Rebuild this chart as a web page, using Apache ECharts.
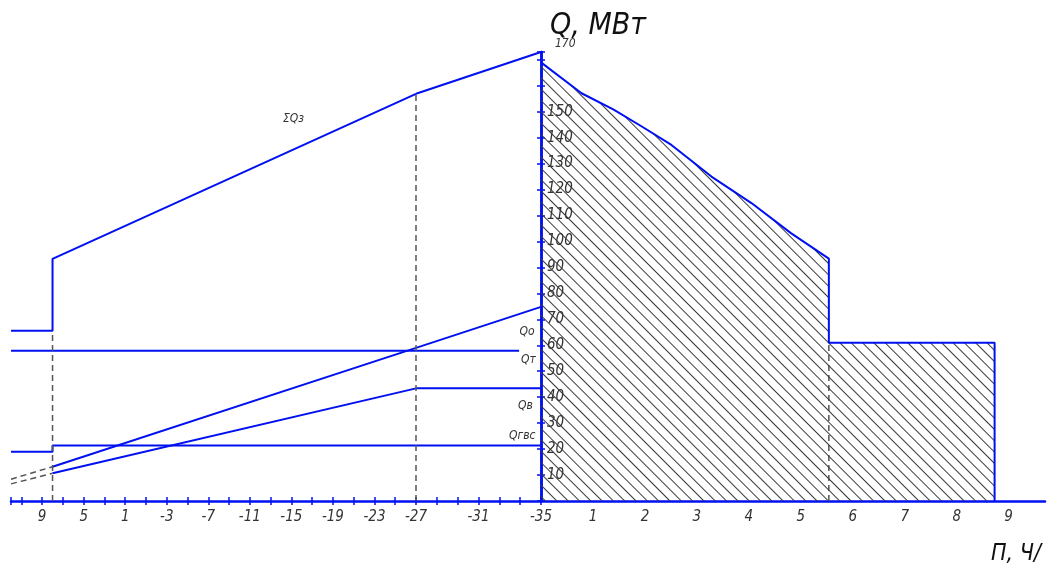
<!DOCTYPE html>
<html>
<head>
<meta charset="utf-8">
<title>График Россандера</title>
<script src="https://cdn.jsdelivr.net/npm/echarts@6/dist/echarts.min.js"></script>
<style>
    html, body { margin: 0; padding: 0; background: #fff; }
    #main { width: 1051px; height: 563px; }
</style>
</head>
<body>
<div id="main"></div>
<script>
// левая часть: температура наружного воздуха, правая: продолжительность, тыс. ч
var sumQTemp = [12, 8, 8, -27, -35];
var sumQVal = [65.6, 65.6, 93.3, 156.9, 173];
var qoTemp = [8, -27, -35];
var qoVal = [13.2, 59.0, 74.8];
var qoExtTemp = [12, 8];
var qoExtVal = [8.4, 13.2];
var qvTemp = [8, -27, -35];
var qvVal = [10.7, 43.4, 43.4];
var qvExtTemp = [12, 8];
var qvExtVal = [6.6, 10.7];
var qtTemp = [12, -27, -33.6];
var qtVal = [57.9, 57.9, 57.9];
var qgvsTemp = [12, 8, 8, -27, -35];
var qgvsVal = [19.0, 19.0, 21.4, 21.4, 21.4];

var durHours = [0, 0.78, 1.39, 1.94, 2.51, 3.28, 4.05, 4.81, 5.54, 5.54, 8.73, 8.73];
var durVal = [169, 157.1, 150.9, 144.3, 137.2, 125.0, 114.8, 103.2, 93.4, 61, 61, 0];

var dashTemp = [8, -27];      // пунктир по температуре
var dashTempTop = [65.6, 156.9];
var dashHour = [5.54];        // пунктир по часам
var dashHourTop = [61];

var tempLabels = [9, 5, 1, -3, -7, -11, -15, -19, -23, -27, -31, -35];
var hourLabels = [1, 2, 3, 4, 5, 6, 7, 8, 9];
var yLabels = [10, 20, 30, 40, 50, 60, 70, 80, 90, 100, 110, 120, 130, 140, 150];

var BLUE = '#0010f0';
var FONT = '"DejaVu Sans Condensed", "DejaVu Sans", sans-serif';
var SPLIT = -27;

function pairs(ts, vs, keep) {
    var out = [];
    for (var i = 0; i < ts.length; i++) {
        if (keep(ts[i])) out.push([ts[i], vs[i]]);
    }
    return out;
}
function inA(t) { return t >= SPLIT; }
function inB(t) { return t <= SPLIT; }

function tempFmt(skip) {
    return function (v) {
        var r = Math.round(v);
        if (Math.abs(v - r) > 1e-6 || r === skip) return '';
        return tempLabels.indexOf(r) >= 0 ? String(r) : '';
    };
}

var labelStyle = { fontFamily: FONT, fontStyle: 'italic', fontSize: 15, color: '#333' };

function tempAxis(grid, min, max, interval, top, skip) {
    return {
        type: 'value', gridIndex: grid, inverse: true, min: min, max: max, interval: interval,
        position: top ? 'top' : 'bottom',
        axisLine: { show: !top, onZero: false, lineStyle: { color: BLUE, width: 2.5 } },
        axisTick: { show: true, length: 4, lineStyle: { color: BLUE, width: 1.5 } },
        axisLabel: top ? { show: false } : Object.assign({ margin: 9, formatter: tempFmt(skip),
            showMinLabel: true, showMaxLabel: true }, labelStyle),
        splitLine: { show: false }
    };
}

function yAxisHidden(grid, max) {
    return { type: 'value', gridIndex: grid, min: 0, max: max, show: false };
}

function line(name, data, xi, dashed, extra) {
    var s = {
        name: name, type: 'line', xAxisIndex: xi, yAxisIndex: xi,
        data: data, symbol: 'none', clip: false, silent: true,
        lineStyle: dashed ? { color: '#555', width: 1.5, type: [6, 4] } : { color: BLUE, width: 2 },
        itemStyle: { color: dashed ? '#555' : BLUE }
    };
    return Object.assign(s, extra || {});
}

function tag(text, coord) {
    return {
        symbol: 'rect', symbolSize: 1, itemStyle: { color: 'rgba(0,0,0,0)' },
        label: { show: true, position: 'inside', fontFamily: FONT, fontStyle: 'italic', fontSize: 12, color: '#333' },
        data: [{ coord: coord, value: text, label: { formatter: text } }]
    };
}

var series = [];
// линии левой части, разбитые по двум участкам шкалы
[
    ['ΣQз', sumQTemp, sumQVal, false, ['ΣQз', [-15.2, 147.3]], null],
    ['Qо', qoTemp, qoVal, false, null, ['Qо', [-34.1, 65.3]]],
    ['Qт', qtTemp, qtVal, false, null, ['Qт', [-34.2, 54.5]]],
    ['Qв', qvTemp, qvVal, false, null, ['Qв', [-34.0, 36.6]]],
    ['Qгвс', qgvsTemp, qgvsVal, false, null, ['Qгвс', [-33.8, 25.1]]],
    ['Qо пр.', qoExtTemp, qoExtVal, true, null, null],
    ['Qв пр.', qvExtTemp, qvExtVal, true, null, null]
].forEach(function (d) {
    var a = pairs(d[1], d[2], inA), b = pairs(d[1], d[2], inB);
    if (a.length > 1) series.push(line(d[0], a, 0, d[3], d[4] ? { markPoint: tag(d[4][0], d[4][1]) } : null));
    if (b.length > 1) series.push(line(d[0], b, 1, d[3], d[5] ? { markPoint: tag(d[5][0], d[5][1]) } : null));
});

dashTemp.forEach(function (t, i) {
    series.push(line('пунктир', [[t, 0], [t, dashTempTop[i]]], 0, true));
});
dashHour.forEach(function (h, i) {
    series.push(line('пунктир', [[h, 0], [h, dashHourTop[i]]], 2, true, { z: 3 }));
});

series.push(line('график продолжительности', durHours.map(function (h, i) { return [h, durVal[i]]; }), 2, false, {
    z: 4,
    areaStyle: { color: 'rgba(255,255,255,0)', opacity: 1 },
    itemStyle: {
        color: BLUE,
        decal: {
            symbol: 'rect', symbolSize: 1, color: '#3a3a3a', backgroundColor: null,
            dashArrayX: [1, 0], dashArrayY: [1, 7], rotation: Math.PI / 4
        }
    }
}));

var YMAX = 173;
var gTop = 52, gH = 449;

var option = {
    animation: false,
    backgroundColor: '#fff',
    title: [
        { text: 'Q, МВт', left: 545, top: 6, textStyle: { fontFamily: FONT, fontStyle: 'italic', fontWeight: 'normal', fontSize: 30, color: '#111' } },
        { text: 'П, Ч/', left: 986, top: 538, textStyle: { fontFamily: FONT, fontStyle: 'italic', fontWeight: 'normal', fontSize: 23, color: '#111' } }
    ],
    grid: [
        { left: 11, width: 405, top: gTop, height: gH, outerBoundsMode: 'none' },
        { left: 416, width: 125, top: gTop, height: gH, outerBoundsMode: 'none' },
        { left: 541, width: 504, top: gTop, height: gH, outerBoundsMode: 'none' },
        { left: 11, width: 405, top: 501, height: 1, outerBoundsMode: 'none' },
        { left: 416, width: 125, top: 501, height: 1, outerBoundsMode: 'none' }
    ],
    xAxis: [
        tempAxis(0, -27, 12, 2, false, null),
        tempAxis(1, -35, -27, 4 / 3, false, -27),
        {
            type: 'value', gridIndex: 2, min: 0, max: 9.7, interval: 1,
            axisLine: { onZero: false, lineStyle: { color: BLUE, width: 2.5 } },
            axisTick: { show: false },
            axisLabel: Object.assign({ margin: 9, showMaxLabel: true, formatter: function (v) {
                return hourLabels.indexOf(v) >= 0 ? String(v) : '';
            } }, labelStyle),
            splitLine: { show: false }
        },
        tempAxis(3, -27, 12, 2, true, null),
        tempAxis(4, -35, -27, 4 / 3, true, -27)
    ],
    yAxis: [
        yAxisHidden(0, YMAX),
        {
            type: 'value', gridIndex: 1, position: 'right', min: 0, max: YMAX, interval: 10,
            axisLine: { show: true, onZero: false, lineStyle: { color: BLUE, width: 2.5 } },
            axisTick: { show: true, length: 4, lineStyle: { color: BLUE, width: 1.5 } },
            axisLabel: { show: false },
            splitLine: { show: false }
        },
        {
            type: 'value', gridIndex: 2, position: 'left', min: 0, max: YMAX, interval: 10,
            name: '170', nameLocation: 'end', nameGap: 2,
            nameTextStyle: { fontFamily: FONT, fontStyle: 'italic', fontSize: 12, color: '#333', align: 'left', padding: [0, 0, 0, 14] },
            axisLine: { show: true, onZero: false, lineStyle: { color: BLUE, width: 2.5 } },
            axisTick: { show: true, length: 4, lineStyle: { color: BLUE, width: 1.5 } },
            axisLabel: Object.assign({ inside: true, margin: 6, formatter: function (v) {
                return yLabels.indexOf(v) >= 0 ? String(v) : '';
            } }, labelStyle),
            splitLine: { show: false }
        },
        yAxisHidden(3, 1),
        yAxisHidden(4, 1)
    ],
    series: series
};

var myChart = echarts.init(document.getElementById('main'));
myChart.setOption(option);
window.onresize = myChart.resize;
</script>
</body>
</html>
